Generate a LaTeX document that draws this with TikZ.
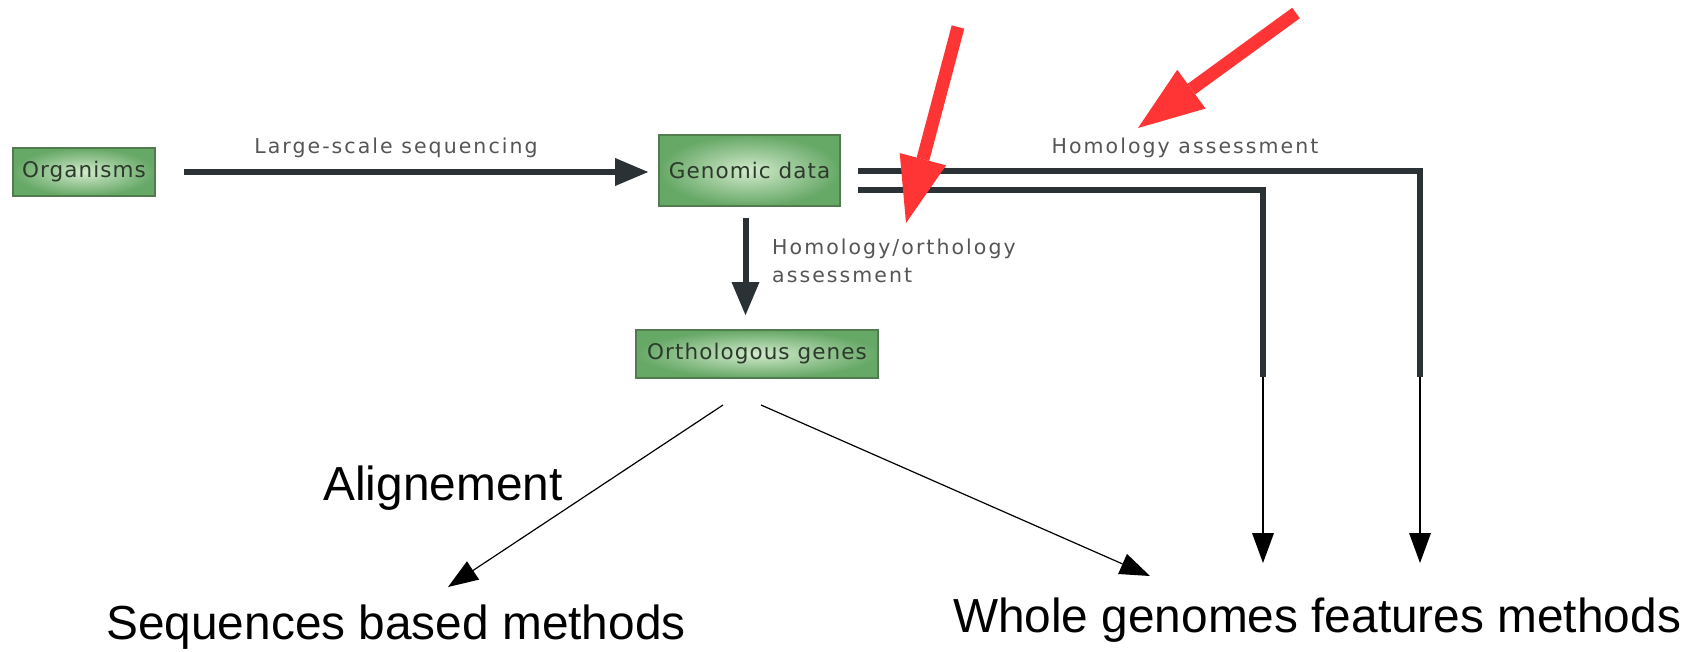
\documentclass[tikz,border=0pt]{standalone}
\usepackage{fontspec}
\setmainfont{Liberation Sans}
\newfontfamily\boxfont[LetterSpace=5]{DejaVu Sans}
\newfontfamily\labelfont[LetterSpace=10]{DejaVu Sans}
\usetikzlibrary{arrows.meta}

\definecolor{linedark}{HTML}{2B3236}
\definecolor{boxgreen}{HTML}{66A866}
\definecolor{boxlight}{HTML}{D2EACC}
\definecolor{boxedge}{HTML}{527C4F}
\definecolor{labelgray}{HTML}{555555}
\definecolor{boxtext}{HTML}{2C3A2C}
\definecolor{alertred}{HTML}{FF3535}

\begin{document}
\begin{tikzpicture}[x=1pt,y=-1pt,
  greenbox/.style={draw=boxedge, line width=1.8pt, inner color=boxlight,
    outer color=boxgreen, minimum height=48pt, inner sep=0pt,
    font=\boxfont\fontsize{21.5}{24}\selectfont, text=boxtext},
  smalllabel/.style={font=\labelfont\fontsize{20.5}{28}\selectfont,
    text=labelgray, inner sep=0pt},
  biglabel/.style={font=\fontsize{47.8}{56}\selectfont, text=black, inner sep=0pt},
  flow/.style={draw=linedark, line width=6pt},
  flowarrow/.style={flow, -{Triangle[length=33pt,width=28pt,line width=0pt]}},
  thinarrow/.style={draw=black, line width=1.2pt,
    -{Triangle[length=30pt,width=22pt,line width=0pt]}},
  redarrow/.style={draw=alertred, line width=13pt,
    -{Triangle[length=66pt,width=48pt,line width=0pt]}},
]
\useasboundingbox (0,0) rectangle (1704,651);

% boxes
\node[greenbox, minimum width=142pt] (org) at (84,172) {Organisms};
\node[greenbox, minimum width=181pt, minimum height=71pt] (gen) at (749.5,170.5) {Genomic data};
\node[greenbox, minimum width=242pt] (orth) at (757,354) {Orthologous genes};

% small labels
\node[smalllabel] (seqlbl) at (396,148) {Large-scale sequencing};
\node[smalllabel] (homlbl) at (1185,148) {Homology assessment};
\node[smalllabel, align=left, anchor=north west] (hololbl) at (772,239)
  {Homology/orthology\\assessment};

% large labels
\node[biglabel, anchor=base] (alg) at (443,500) {Alignement};
\node[biglabel, anchor=base] (seqm) at (396,639) {Sequences based methods};
\node[biglabel, anchor=base] (whole) at (1317,632) {Whole genomes features methods};

% main flow
\draw[flowarrow, shorten <=28pt, shorten >=10pt] (org.east) -- (org.east -| gen.west);
\draw[flowarrow, shorten <=11pt, shorten >=14pt]
  ([xshift=-4pt]gen.south) -- ([xshift=-4pt]gen.south |- orth.north);

% homology branches
\coordinate (outA) at (858,171);
\coordinate (outB) at (858,190);
\coordinate (endA) at (1420,377);
\coordinate (endB) at (1263,377);
\coordinate (tipA) at (1420,563);
\coordinate (tipB) at (1263,563);
\draw[flow] (outA) -| (endA);
\draw[flow] (outB) -| (endB);
\draw[thinarrow] (endA) -- (tipA);
\draw[thinarrow] (endB) -- (tipB);

% from orthologous genes
\coordinate (oL) at (723,405);
\coordinate (oR) at (761,405);
\coordinate (seqTip) at (448,587);
\coordinate (wholeTip) at (1150,576);
\draw[thinarrow] (oL) -- (seqTip);
\draw[thinarrow] (oR) -- (wholeTip);

% red pointers
\coordinate (r1a) at (958,27);
\coordinate (r1b) at (906,223);
\coordinate (r2a) at (1296,13);
\coordinate (r2b) at (1138,128);
\draw[redarrow] (r1a) -- (r1b);
\draw[redarrow] (r2a) -- (r2b);
\end{tikzpicture}
\end{document}
